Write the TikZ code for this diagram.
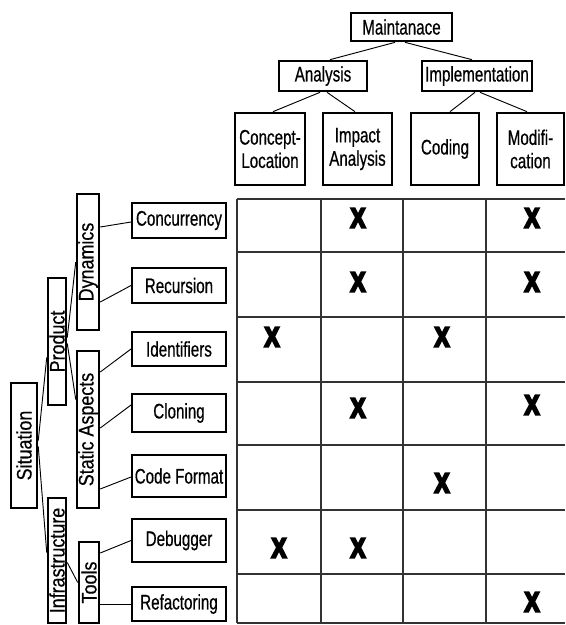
\documentclass[tikz,border=0pt]{standalone}
\usepackage{fontspec}
\setmainfont{Liberation Sans}
\newfontfamily\hfont[FakeStretch=0.72,FakeBold=0.5]{Liberation Sans}
\newfontfamily\vfont[FakeStretch=0.85,FakeBold=0.5]{Liberation Sans}
\newfontfamily\xfont[FakeStretch=0.8,FakeBold=7]{Liberation Sans Bold}
\usetikzlibrary{calc}

\begin{document}
\begin{tikzpicture}[x=0.75pt,y=-0.75pt,
  sz/.style 2 args={minimum width=#1*0.75pt, minimum height=#2*0.75pt},
  base/.style={draw, inner sep=0pt, align=center, fill=white},
  topbox/.style={base, line width=2pt, font=\hfont\fontsize{15.8pt}{17.5pt}\selectfont},
  catbox/.style={base, line width=1.9pt, font=\vfont\fontsize{15.8pt}{16pt}\selectfont},
  leafbox/.style={base, line width=1.5pt, font=\hfont\fontsize{15.8pt}{17.5pt}\selectfont},
  link/.style={line width=0.7pt},
  grid/.style={line width=0.8pt, draw=black!80},
  xmark/.style={inner sep=0pt, font=\xfont\fontsize{21pt}{21pt}\selectfont}]

\useasboundingbox (0,0) rectangle (565,625);

% table grid
\foreach \yy in {199,252,317,382,445,510,574,623}
  \draw[grid] (237,\yy) -- (565,\yy);
\foreach \xx in {237,321,403,486}
  \draw[grid] (\xx,199) -- (\xx,623);

% activity tree
\node[topbox, sz={101}{28}] (mt) at (401.5,27) {Maintanace};
\node[topbox, sz={88}{30}] (an) at (323,76) {Analysis};
\node[topbox, sz={110}{30}] (im) at (477,76) {Implementation};
\node[topbox, sz={70}{72}] (cl) at (270,149) {Concept-\\Location};
\node[topbox, sz={69}{72}] (ia) at (357.5,149) {Impact\\Analysis};
\node[topbox, sz={68}{72}] (co) at (445,149) {Coding};
\node[topbox, sz={67}{72}] (mo) at (530.5,149) {Modifi-\\cation};

\draw[link] ($(mt.south)+(-6.5,0)$) -- ($(an.north)+(7,0)$);
\draw[link] ($(mt.south)+(3.5,0)$) -- ($(im.north)+(-5,0)$);
\draw[link] ($(an.south)+(-3,0)$) -- ($(cl.north)+(3,0)$);
\draw[link] ($(an.south)+(4,0)$) -- ($(ia.north)+(-2.5,0)$);
\draw[link] ($(im.south)+(-2,0)$) -- ($(co.north)+(5,0)$);
\draw[link] ($(im.south)+(3,0)$) -- ($(mo.north)+(-3.5,0)$);

% situation tree
\node[catbox, sz={26}{125}] (si) at (24,445.5) {\rotatebox{90}{Situation}};
\node[catbox, sz={18}{127}] (pr) at (57,341.5) {\rotatebox{90}{Product}};
\node[catbox, sz={18}{125}] (in) at (57,560.5) {\rotatebox{90}{Infrastructure}};
\node[catbox, sz={22}{136}] (dy) at (88,262) {\rotatebox{90}{Dynamics}};
\node[catbox, sz={22}{157}] (sa) at (88,429.5) {\rotatebox{90}{Static Aspects}};
\node[catbox, sz={20}{81}] (to) at (89,582.5) {\rotatebox{90}{Tools}};

\node[leafbox, sz={94}{35}] (cc) at (179,220.5) {Concurrency};
\node[leafbox, sz={94}{35}] (rc) at (179,285.5) {Recursion};
\node[leafbox, sz={94}{34}] (id) at (179,349) {Identifiers};
\node[leafbox, sz={94}{38}] (cn) at (179,413) {Cloning};
\node[leafbox, sz={94}{42}] (cf) at (179,476) {Code Format};
\node[leafbox, sz={94}{43}] (db) at (179,540.5) {Debugger};
\node[leafbox, sz={94}{34}] (rf) at (179,604) {Refactoring};

\draw[link] ($(si.east)+(0,-5)$) -- ($(pr.west)+(0,16)$);
\draw[link] ($(si.east)+(0,1)$) -- ($(in.west)+(0,-8)$);
\draw[link] ($(pr.east)+(0,-4)$) -- (dy.west);
\draw[link] ($(pr.east)+(0,2)$) -- ($(sa.west)+(0,-30)$);
\draw[link] ($(in.east)+(0,2)$) -- (to.west);

\draw[link] ($(dy.east)+(0,-35)$) -- ($(cc.west)+(0,1.5)$);
\draw[link] ($(dy.east)+(0,40)$) -- (rc.west);
\draw[link] ($(sa.east)+(0,-57.5)$) -- (id.west);
\draw[link] ($(sa.east)+(0,-1.5)$) -- ($(cn.west)+(0,-8)$);
\draw[link] ($(sa.east)+(0,59.5)$) -- ($(cf.west)+(0,1)$);
\draw[link] ($(to.east)+(0,-29.5)$) -- (db.west);
\draw[link] ($(to.east)+(0,21.5)$) -- (rf.west);

% marks in the table
\node[xmark] (x11) at (358,218) {X};
\node[xmark] (x12) at (532,218) {X};
\node[xmark] (x21) at (358,282) {X};
\node[xmark] (x22) at (532,282) {X};
\node[xmark] (x31) at (272,337) {X};
\node[xmark] (x32) at (442,337) {X};
\node[xmark] (x41) at (358,408) {X};
\node[xmark] (x42) at (532,405) {X};
\node[xmark] (x51) at (442,483) {X};
\node[xmark] (x61) at (279,548) {X};
\node[xmark] (x62) at (358,548) {X};
\node[xmark] (x71) at (532,602) {X};
\end{tikzpicture}
\end{document}
